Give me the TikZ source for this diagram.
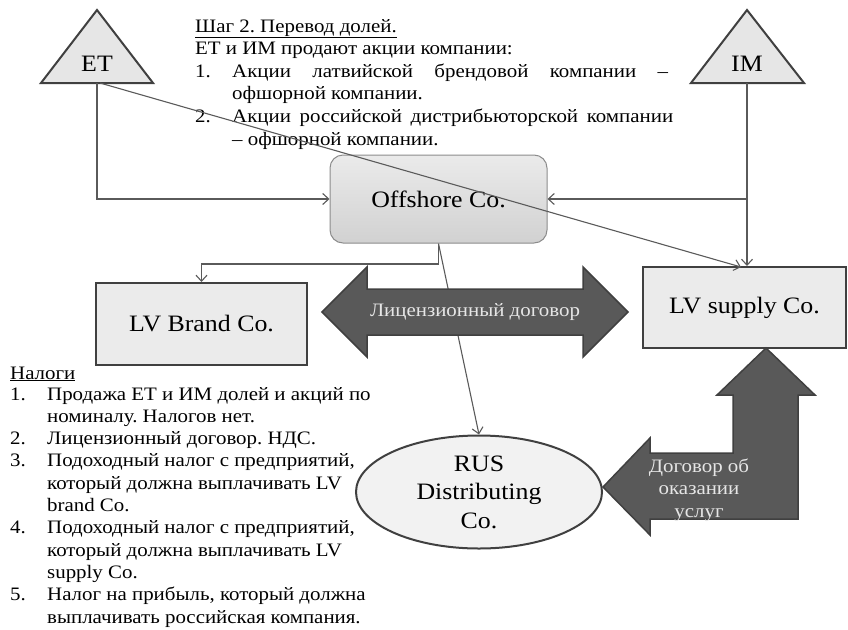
\documentclass[tikz,border=0pt]{standalone}
\usepackage{fontspec}
\setmainfont{Liberation Serif}[FakeStretch=1.10]
\frenchspacing
\usetikzlibrary{arrows.meta,shapes.geometric}
\definecolor{edgec}{HTML}{404040}
\definecolor{connc}{HTML}{5A5A5A}
\definecolor{boxfill}{HTML}{EBEBEB}
\definecolor{trifill}{HTML}{E6E6E6}
\definecolor{darkfill}{HTML}{595959}
\definecolor{arrowtext}{HTML}{E6E6E6}
\definecolor{offborder}{HTML}{8C8C8C}
\tikzset{
  txt/.style={inner sep=0pt, anchor=base west, font=\fontsize{19}{22}\selectfont},
  big/.style={font=\fontsize{23.5}{28.5}\selectfont},
  tri/.style={draw=edgec, line width=2pt, fill=trifill, line join=miter},
  company/.style={draw=edgec, line width=2pt, fill=boxfill, inner sep=0pt, big},
  conn/.style={draw=connc, line width=1.1pt, -{Straight Barb[length=6pt,width=11pt]}},
  plainconn/.style={draw=connc, line width=1.1pt},
  fat/.style={draw=edgec, line width=1.5pt, fill=darkfill, line join=miter},
  fattext/.style={text=arrowtext, inner sep=0pt, align=center, font=\fontsize{19}{22.5}\selectfont}
}
\begin{document}
\begin{tikzpicture}[x=1pt,y=-1pt]
\useasboundingbox (0,0) rectangle (848,629);

% triangles
\draw[tri] (97,10) -- (153,83) -- (41,83) -- cycle;
\node[big, inner sep=0pt] (ET) at (97,64) {ET};
\coordinate (ETb) at (97,83);
\coordinate (ETd) at (100,83);
\draw[tri] (747,10) -- (804,83) -- (691,83) -- cycle;
\node[big, inner sep=0pt] (IM) at (747,64) {IM};
\coordinate (IMb) at (747,83);

% top text
\node[txt] (t1) at (195,32) {\underline{Шаг 2. Перевод долей.}};
\node[txt] (t2) at (195,54.6) {ЕТ и ИМ продают акции компании:};
\node[txt] (t3n) at (195,77.2) {1.};
\node[txt] (t3) at (232,77.2) {\makebox[436pt][s]{Акции латвийской брендовой компании –}};
\node[txt] (t4) at (232,99.8) {офшорной компании.};
\node[txt] (t5n) at (195,122.4) {2.};
\node[txt] (t5) at (232,122.4) {\makebox[441pt][s]{Акции российской дистрибьюторской компании}};
\node[txt] (t6) at (232,145) {– офшорной компании.};

% Offshore
\node[shade, top color=white!92!black, bottom color=white!82!black, draw=offborder, line width=1pt,
      rounded corners=13pt, minimum width=217pt, minimum height=88pt, big] (off) at (438.5,199) {Offshore Co.};

% companies
\node[company, minimum width=211pt, minimum height=82pt] (LVb) at (201.5,324) {LV Brand Co.};
\node[company, minimum width=203pt, minimum height=81pt] (LVs) at (744.5,307.5) {LV supply Co.};
\node[ellipse, draw=edgec, line width=2pt, fill=white!95!black, minimum width=246pt, minimum height=113pt,
      inner sep=0pt, align=center, big] (rus) at (479,492) {RUS\\Distributing\\Co.};

% connectors
\coordinate (LVsin) at (741,267);
\coordinate (j1) at (438.5,264);
\draw[conn] (ETb) |- (off.west);
\draw[conn] (IMb |- off.east) -- (off.east);
\draw[conn] (IMb) -- (IMb |- LVs.north);
\draw[conn] (ETd) -- (LVsin);
\draw[plainconn] (off.south) -- (j1);
\draw[conn] (j1) -| (LVb.north);
\draw[conn] (off.south) -- (rus.north);

% license double arrow
\draw[fat] (322,312) -- (367,267) -- (367,289) -- (583,289) -- (583,267) -- (628,312)
   -- (583,357) -- (583,335) -- (367,335) -- (367,357) -- cycle;
\node[fattext] (lic) at (475,312) {Лицензионный договор};

% services bent arrow
\draw[fat] (766,348) -- (815,395) -- (798,395) -- (798,519) -- (650,519) -- (650,535) -- (603,487)
   -- (650,438) -- (650,453) -- (733,453) -- (733,395) -- (717,395) -- cycle;
\node[fattext] (svc) at (699,490) {Договор об\\оказании\\услуг};

% taxes text
\node[txt] (n0) at (10,379) {\underline{Налоги}};
\node[txt] (n1n) at (10,400) {1.};
\node[txt] (n1) at (47,400) {Продажа ЕТ и ИМ долей и акций по};
\node[txt] (n1b) at (47,422.3) {номиналу. Налогов нет.};
\node[txt] (n2n) at (10,444.6) {2.};
\node[txt] (n2) at (47,444.6) {Лицензионный договор. НДС.};
\node[txt] (n3n) at (10,466.9) {3.};
\node[txt] (n3) at (47,466.9) {Подоходный налог с предприятий,};
\node[txt] (n3b) at (47,489.2) {который должна выплачивать LV};
\node[txt] (n3c) at (47,511.5) {brand Co.};
\node[txt] (n4n) at (10,533.8) {4.};
\node[txt] (n4) at (47,533.8) {Подоходный налог с предприятий,};
\node[txt] (n4b) at (47,556.1) {который должна выплачивать LV};
\node[txt] (n4c) at (47,578.4) {supply Co.};
\node[txt] (n5n) at (10,600.7) {5.};
\node[txt] (n5) at (47,600.7) {Налог на прибыль, который должна};
\node[txt] (n5b) at (47,623) {выплачивать российская компания.};
\end{tikzpicture}
\end{document}
